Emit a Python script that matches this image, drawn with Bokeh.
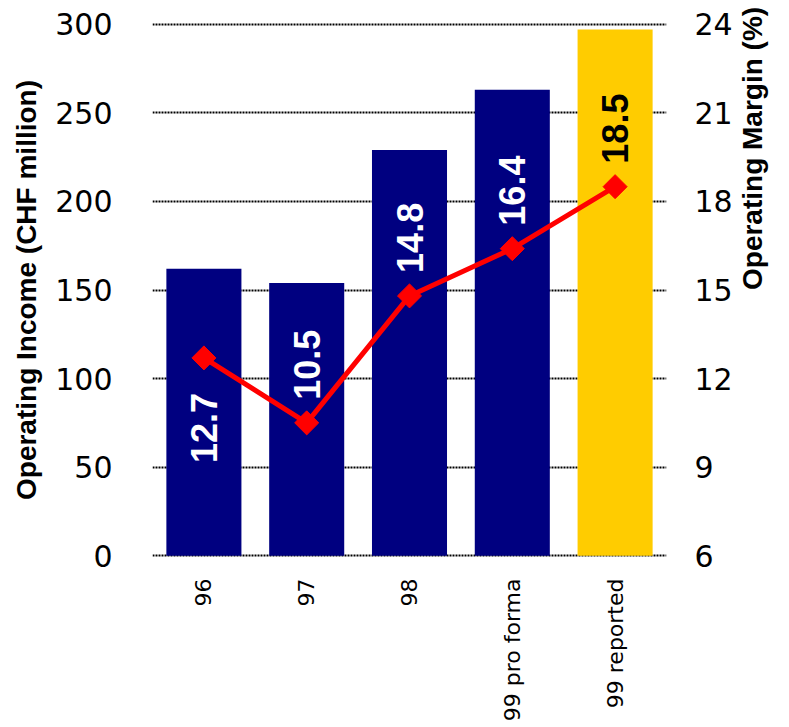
import math
from bokeh.plotting import figure
from bokeh.models import Range1d, LinearAxis, SingleIntervalTicker, ColumnDataSource, FactorRange
from bokeh.core.properties import value
from bokeh.embed import file_html
from bokeh.resources import INLINE

# ---- data ----
categories = ["96", "97", "98", "99 pro forma", "99 reported"]
operating_income = [162, 154, 229, 263, 297]          # CHF million (left axis)
operating_margin = [12.7, 10.5, 14.8, 16.4, 18.5]     # % (right axis)
margin_labels = ["12.7", "10.5", "14.8", "16.4", "18.5"]
income_ticks = [0, 300]
margin_ticks = [6, 24]
bar_colors = ["#000080", "#000080", "#000080", "#000080", "#FFCC00"]
label_colors = ["white", "white", "white", "white", "black"]
label_above = [False, True, True, True, True]

src = ColumnDataSource(dict(
    cat=categories,
    income=operating_income,
    margin=operating_margin,
    lbl=margin_labels,
    bcol=bar_colors,
    lcol=label_colors,
    align=["left" if a else "right" for a in label_above],
    yoff=[-23 if a else 35 for a in label_above],
))

# small padding so that the 0 and 300 gridlines are not clipped by the frame
pad = 1.0
lo, hi = income_ticks
mlo, mhi = margin_ticks
mpad = pad * (mhi - mlo) / (hi - lo)

p = figure(
    x_range=FactorRange(*categories, range_padding=0),
    y_range=Range1d(lo - pad, hi + pad),
    width=789, height=727,
    output_backend="svg", toolbar_location=None,
    min_border_left=152, min_border_right=123,
    min_border_top=22, min_border_bottom=170,
)
p.extra_y_ranges = {"margin": Range1d(mlo - mpad, mhi + mpad)}
p.outline_line_color = None
p.background_fill_color = "white"
p.border_fill_color = "white"

# bars
p.vbar(x="cat", top="income", width=0.73, fill_color="bcol", line_color=None, source=src)

# line + markers
p.line(x="cat", y="margin", y_range_name="margin", line_color="#FF0000", line_width=5, source=src)
p.scatter(x="cat", y="margin", y_range_name="margin", marker="square", angle=math.pi / 4,
          size=17, fill_color="#FF0000", line_color="#FF0000", source=src)

# value labels inside bars
p.text(x="cat", y="margin", y_range_name="margin", text="lbl", angle=math.pi / 2,
       text_align="align", text_baseline="middle", y_offset="yoff",
       text_color="lcol", text_font=value("Liberation Sans"), text_font_style="bold",
       text_font_size="36px", source=src)

# left axis
yax = p.yaxis[0]
yax.ticker = SingleIntervalTicker(interval=50)
yax.axis_label = "Operating Income (CHF million)"
yax.axis_label_text_font = "Liberation Sans"
yax.axis_label_text_font_style = "bold"
yax.axis_label_text_font_size = "28px"
yax.axis_label_text_color = "black"
yax.axis_label_standoff = 10
yax.major_label_text_font = "DejaVu Sans"
yax.major_label_text_font_size = "30px"
yax.major_label_text_color = "black"
yax.major_label_standoff = 34
yax.axis_line_color = None
yax.major_tick_line_color = None
yax.minor_tick_line_color = None

# right axis
rax = LinearAxis(y_range_name="margin", ticker=SingleIntervalTicker(interval=3))
rax.axis_label = "Operating Margin (%)"
rax.axis_label_orientation = math.pi / 2
rax.axis_label_text_font = "Liberation Sans"
rax.axis_label_text_font_style = "bold"
rax.axis_label_text_font_size = "28px"
rax.axis_label_text_color = "black"
rax.axis_label_standoff = 17
rax.major_label_text_font = "DejaVu Sans"
rax.major_label_text_font_size = "30px"
rax.major_label_text_color = "black"
rax.major_label_standoff = 22
rax.axis_line_color = None
rax.major_tick_line_color = None
rax.minor_tick_line_color = None
p.add_layout(rax, "right")

# bottom axis
xax = p.xaxis[0]
xax.major_label_orientation = math.pi / 2
xax.major_label_text_font = "DejaVu Sans"
xax.major_label_text_font_size = "22px"
xax.major_label_text_color = "black"
xax.major_label_standoff = 15
xax.axis_line_color = None
xax.major_tick_line_color = None
xax.minor_tick_line_color = None

# grid
p.xgrid.grid_line_color = None
p.ygrid.grid_line_color = "black"
p.ygrid.grid_line_dash = "2 1"
p.ygrid.grid_line_width = 2

open("out.html", "w").write(file_html(p, INLINE))
